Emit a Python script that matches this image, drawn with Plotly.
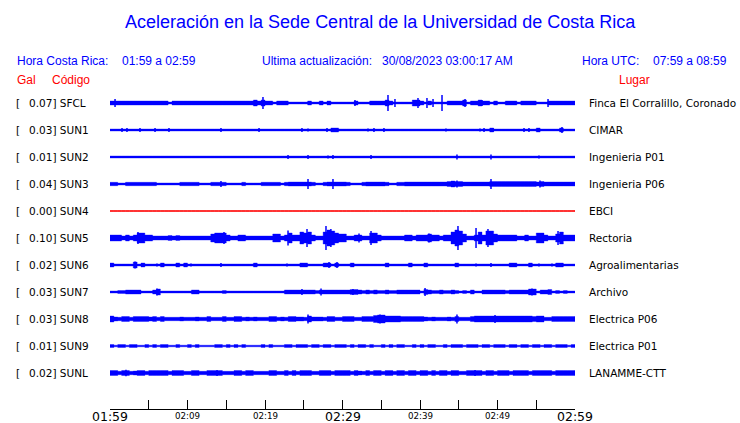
import plotly.graph_objects as go

# ---------------- data ----------------
CODES = ["SFCL", "SUN1", "SUN2", "SUN3", "SUN4", "SUN5", "SUN6", "SUN7", "SUN8", "SUN9", "SUNL"]
PEAK_GAL = [0.07, 0.03, 0.01, 0.04, 0.00, 0.10, 0.02, 0.03, 0.03, 0.01, 0.02]
PLACES = ["Finca El Corralillo, Coronado", "CIMAR", "Ingenieria P01", "Ingenieria P06", "EBCI",
          "Rectoria", "Agroalimentarias", "Archivo", "Electrica P06", "Electrica P01", "LANAMME-CTT"]

TICK_MINUTES = [0, 5, 10, 15, 20, 25, 30, 35, 40, 45, 50, 55, 60]
TICK_LABELS = ["01:59", "", "02:09", "", "02:19", "", "02:29", "", "02:39", "", "02:49", "", "02:59"]
MAJOR_LABELS = ["01:59", "02:29", "02:59"]

BIN_MINUTES = 0.5  # envelope sampled every half minute (120 bins, 01:59 -> 02:59)

# half-amplitude envelopes (relative units) read from the record
SFCL_ENV = [2, 2, 2, 2, 2, 2, 2, 2, 2, 2,
            2, 2, 2, 2, 2, 1, 2, 2, 2, 2,
            2, 2, 2, 2, 2, 2, 2, 2, 2, 2,
            2, 2, 2, 2, 2, 2, 2, 3, 2, 3,
            2, 2, 1, 2, 2, 2, 1, 1, 1, 1,
            1, 2, 1, 1, 2, 1, 2, 1, 1, 1,
            1, 1, 1, 2, 1, 1, 1, 2, 2, 2,
            2, 3, 2, 1, 1, 1, 1, 1, 3, 3,
            2, 1, 2, 1, 1, 1, 1, 2, 2, 2,
            2, 3, 1, 2, 2, 3, 2, 2, 1, 2,
            1, 1, 2, 2, 2, 1, 2, 2, 2, 2,
            1, 1, 1, 2, 2, 2, 2, 2, 2, 2]
SUN1_ENV = [1, 1, 1, 1, 1, 1, 1, 1, 1, 1,
            1, 1, 1, 1, 1, 1, 1, 1, 1, 1,
            1, 1, 1, 1, 1, 1, 1, 1, 1, 1,
            1, 1, 1, 1, 1, 1, 1, 1, 1, 1,
            1, 1, 1, 1, 1, 1, 1, 1, 1, 1,
            1, 1, 1, 1, 1, 1, 1, 2, 2, 1,
            1, 1, 1, 1, 1, 1, 1, 1, 1, 1,
            1, 1, 1, 1, 1, 1, 1, 1, 1, 1,
            1, 1, 1, 1, 1, 1, 1, 1, 1, 1,
            1, 1, 1, 1, 1, 1, 1, 1, 2, 1,
            1, 1, 1, 1, 1, 1, 1, 1, 1, 1,
            2, 1, 1, 1, 1, 1, 2, 1, 1, 1]
SUN2_ENV = [1, 1, 1, 1, 1, 1, 1, 1, 1, 1,
            1, 1, 1, 1, 1, 1, 1, 1, 1, 1,
            1, 1, 1, 1, 1, 1, 1, 1, 1, 1,
            1, 1, 1, 1, 1, 1, 1, 1, 1, 1,
            1, 1, 1, 1, 1, 1, 1, 1, 1, 1,
            1, 1, 1, 1, 1, 1, 1, 1, 1, 1,
            1, 1, 1, 1, 1, 1, 1, 1, 1, 1,
            1, 1, 1, 1, 1, 1, 1, 1, 1, 1,
            1, 1, 1, 1, 1, 1, 1, 1, 1, 1,
            1, 1, 1, 1, 1, 1, 1, 1, 1, 1,
            1, 1, 1, 1, 1, 1, 1, 1, 1, 1,
            1, 1, 1, 1, 1, 1, 1, 1, 1, 1]
SUN3_ENV = [1.7, 1.7, 1, 1, 1.7, 1.7, 1.7, 1.7, 1.7, 1.7,
            1.7, 1.7, 1, 1, 1, 1, 1, 1, 1.7, 1.7,
            1.7, 1.7, 1.7, 1, 1, 1, 1.7, 1.7, 1.7, 1.7,
            1, 1, 1, 1, 1.7, 1, 1, 1, 1, 1.7,
            1.7, 1.7, 1.7, 1.7, 1, 1.7, 2, 2, 2, 2,
            2, 2, 1.7, 1, 1, 1.7, 2, 2, 2, 2,
            2, 1.7, 1, 1, 1, 1.7, 2, 2, 2, 2,
            2, 1.7, 1, 1, 1.7, 1.7, 2, 2, 2, 2,
            2, 2, 2, 2, 2, 2, 2, 2.5, 3, 2.5,
            2.5, 2, 2, 2, 2, 2, 2, 2, 2.5, 2.5,
            2.5, 2.5, 2.5, 2.5, 2.5, 2.5, 2.5, 2.5, 2.5, 2.5,
            2, 2.5, 2, 2, 2, 2, 2, 2, 2, 2]
SUN4_ENV = [0.5, 0.5, 0.5, 0.5, 0.5, 0.5, 0.5, 0.5, 0.5, 0.5,
            0.5, 0.5, 0.5, 0.5, 0.5, 0.5, 0.5, 0.5, 0.5, 0.5,
            0.5, 0.5, 0.5, 0.5, 0.5, 0.5, 0.5, 0.5, 0.5, 0.5,
            0.5, 0.5, 0.5, 0.5, 0.5, 0.5, 0.5, 0.5, 0.5, 0.5,
            0.5, 0.5, 0.5, 0.5, 0.5, 0.5, 0.5, 0.5, 0.5, 0.5,
            0.5, 0.5, 0.5, 0.5, 0.5, 0.5, 0.5, 0.5, 0.5, 0.5,
            0.5, 0.5, 0.5, 0.5, 0.5, 0.5, 0.5, 0.5, 0.5, 0.5,
            0.5, 0.5, 0.5, 0.5, 0.5, 0.5, 0.5, 0.5, 0.5, 0.5,
            0.5, 0.5, 0.5, 0.5, 0.5, 0.5, 0.5, 0.5, 0.5, 0.5,
            0.5, 0.5, 0.5, 0.5, 0.5, 0.5, 0.5, 0.5, 0.5, 0.5,
            0.5, 0.5, 0.5, 0.5, 0.5, 0.5, 0.5, 0.5, 0.5, 0.5,
            0.5, 0.5, 0.5, 0.5, 0.5, 0.5, 0.5, 0.5, 0.5, 0.5]
SUN5_ENV = [3, 3, 3, 2, 3, 2, 3, 5, 5, 3,
            3, 2, 2, 2, 2, 2.5, 2, 2.5, 2, 2,
            2, 2, 2, 2, 2, 2, 4, 5, 5, 5,
            3, 2, 2, 3, 3, 2, 2, 2, 2, 2,
            2, 2, 4, 4, 2, 3, 5, 3, 3, 6,
            5, 6, 3, 2, 2, 6, 8, 7, 5, 4,
            4, 2, 2, 3, 3, 2, 2, 5, 5, 3,
            2, 2, 2, 2, 2, 2, 3, 3, 2, 3,
            3, 3, 4, 3, 3, 2, 3, 3, 6, 8,
            7, 4, 2, 2, 3, 6, 3, 7, 7, 4,
            3, 3, 3, 3, 3, 2, 2, 3, 2, 2,
            5, 5, 3, 2, 2, 4, 6, 3, 3, 3]
SUN6_ENV = [2, 1, 1, 1, 1, 1, 3, 1, 2, 1,
            1, 1, 1, 2, 1, 1, 1, 2, 1, 2,
            1, 1, 1, 1, 1, 1, 1, 1, 1, 1,
            1, 1, 1, 1, 1, 1, 1, 2, 1, 1,
            1, 1, 1, 1, 1, 1, 1, 1, 1, 2,
            2, 1, 1, 1, 1, 2, 2, 1, 2, 1,
            1, 1, 2, 1, 1, 1, 1, 1, 1, 1,
            1, 2, 1, 1, 1, 1, 1, 2, 1, 1,
            1, 2, 1, 1, 1, 1, 1, 1, 1, 2,
            1, 1, 1, 1, 1, 1, 1, 1, 1, 1,
            1, 1, 1, 2, 2, 1, 1, 1, 2, 1,
            1, 1, 1, 1, 1, 2, 2, 1, 1, 1]
SUN7_ENV = [1, 1, 1.5, 1.5, 2, 2, 2, 2, 1, 1,
            1, 2, 3, 1, 1, 1, 1, 1, 1, 1,
            1, 2, 2, 1, 1, 1, 1, 1, 1, 1.5,
            1, 1, 1, 1, 1, 1, 1, 1, 1, 1,
            1, 1, 1, 1, 1, 2, 2, 2, 2, 2,
            2, 2, 2, 1.5, 2, 2, 2, 2, 2, 2,
            2, 2, 2.5, 2.5, 2, 1.5, 2, 1.5, 2, 1.5,
            1.5, 2, 1.5, 1.5, 2, 2, 2, 2, 2, 2,
            1, 2.5, 2, 1.5, 1.5, 2, 1.5, 1.5, 2, 1.5,
            1, 1.5, 1, 2, 1, 1, 2, 2, 2, 2,
            2, 2, 1.5, 2, 2, 2, 2, 2, 3, 3,
            1, 2, 2, 2.5, 1, 1.5, 1, 1.5, 1, 1]
SUN8_ENV = [3, 2, 1.7, 2.5, 2.5, 1.7, 2.5, 2.5, 2.5, 2.5,
            2, 2.5, 1.7, 2.5, 1.7, 1.7, 1.7, 1.7, 2, 1.7,
            1.7, 1.7, 2, 1.7, 1.7, 2.5, 1.7, 1.7, 1.7, 2.5,
            1.7, 1.7, 2.5, 2.5, 1.7, 2, 1.7, 2, 1.7, 1.7,
            1.7, 2.5, 2.5, 1.7, 2, 1.7, 2.5, 2.5, 2, 2,
            1.7, 3, 2, 2, 2, 1.7, 2.5, 2.5, 1.7, 1.7,
            2.5, 2.5, 2.5, 1.7, 1.7, 2.5, 2.5, 2.5, 3.5, 4,
            4, 3, 3, 3, 3, 2.5, 2.5, 2.5, 2.5, 2.5,
            2.5, 2, 1.7, 2, 1.7, 1.7, 1.7, 2, 1.7, 2.5,
            1.7, 1.7, 1.7, 2.5, 3, 3, 3, 3, 3, 3,
            3, 3, 3, 3, 3, 3, 3, 3, 3, 2.5,
            3, 3, 1.7, 1.7, 2.5, 2.5, 2.5, 2.5, 2.5, 2.5]
SUN9_ENV = [1.5, 0.8, 1.5, 1.5, 0.8, 1.5, 1.5, 0.8, 0.8, 1.5,
            0.8, 1.5, 0.8, 1.5, 1.5, 0.8, 0.8, 1.5, 0.8, 0.8,
            1.5, 0.8, 1.5, 0.8, 0.8, 0.8, 0.8, 1.5, 1.5, 0.8,
            1.5, 0.8, 1.5, 0.8, 1.5, 0.8, 0.8, 0.8, 0.8, 1.5,
            0.8, 1.5, 0.8, 0.8, 0.8, 1.5, 1.5, 0.8, 1.5, 1.5,
            1.5, 0.8, 1.5, 1.5, 0.8, 1.5, 1.5, 0.8, 1.5, 1.5,
            1.5, 0.8, 1.5, 0.8, 1.5, 1.5, 0.8, 1.5, 0.8, 0.8,
            1.5, 0.8, 1.5, 0.8, 1.5, 1.5, 0.8, 0.8, 1.5, 0.8,
            1.5, 0.8, 1.5, 1.5, 0.8, 0.8, 1.5, 0.8, 1.5, 1.5,
            1.5, 0.8, 1.5, 1.5, 1.5, 0.8, 1.5, 1.5, 0.8, 1.5,
            1.5, 1.5, 0.8, 1.5, 1.5, 0.8, 1.5, 1.5, 0.8, 1.5,
            1.5, 0.8, 1.5, 1.5, 0.8, 1.5, 1.5, 1.5, 0.8, 1.5]
SUNL_ENV = [2.5, 2.5, 1.7, 2.5, 2.5, 1.7, 2, 2.5, 2.5, 1.7,
            2.5, 2.5, 2.5, 2.5, 2.5, 1.7, 2.5, 2.5, 2.5, 1.7,
            1.7, 2.5, 2.5, 1.7, 1.7, 2.5, 2.5, 2.5, 2.5, 1.7,
            1.7, 1.7, 2.5, 2.5, 1.7, 2.5, 2.5, 1.7, 1.7, 1.7,
            1.7, 2.5, 2.5, 1.7, 1.7, 2.5, 1.7, 2.5, 1.7, 2.5,
            2.5, 2.5, 1.7, 1.7, 2.5, 2.5, 2.5, 1.7, 2.5, 2.5,
            2.5, 2.5, 1.7, 2.5, 2, 1.7, 2.5, 1.7, 2.5, 2.5,
            1.7, 2.5, 2.5, 1.7, 2.5, 2.5, 1.7, 2.5, 2.5, 1.7,
            2.5, 2.5, 1.7, 2.5, 1.7, 2.5, 2.5, 1.7, 2.5, 2.5,
            1.7, 1.7, 2.5, 2.5, 2.5, 2.5, 1.7, 2.5, 2.5, 1.7,
            2.5, 2.5, 2.5, 1.7, 2.5, 2.5, 2.5, 2.5, 1.7, 2.5,
            2.5, 2.5, 2.5, 2.5, 1.7, 2.5, 2.5, 2.5, 2.5, 2.5]

# isolated peaks: (minutes after 01:59, half-amplitude)
SFCL_PEAK_T = [0.65, 19.74, 31.61, 35.87, 36.77, 39.74, 40.9, 41.68, 42.84, 45.81, 48.0, 56.52]
SFCL_PEAK_A = [4, 6, 3, 8, 4, 5, 5, 4, 8, 4, 3, 4]
SUN1_PEAK_T = [1.55, 2.19, 3.87, 5.81, 7.61, 14.32, 19.23, 24.77, 25.55, 28.0, 28.9, 33.29,
               34.06, 35.35, 43.35, 47.74, 48.26, 49.42, 53.42, 54.06, 55.35, 58.32]
SUN1_PEAK_A = [2, 2, 2, 2, 2, 2, 2, 2, 1.5, 2, 2, 1.5, 2, 2, 1.5, 1.5, 2, 2, 2, 2, 2, 3]
SUN2_PEAK_T = [22.97, 25.55, 28.13, 28.77, 33.68, 44.77, 49.16, 55.35]
SUN2_PEAK_A = [2, 2, 1.5, 2, 2, 2.5, 2.5, 1.5]
SUN3_PEAK_T = [14.32, 25.55, 28.77, 44.77, 49.16, 55.48]
SUN3_PEAK_A = [3, 5, 5, 3.5, 5, 3.5]
SUN4_PEAK_T = []
SUN4_PEAK_A = []
SUN5_PEAK_T = [3.61, 14.71, 22.97, 25.42, 27.87, 28.5, 32.13, 33.68, 41.16, 44.9, 47.23, 48.77, 57.81]
SUN5_PEAK_A = [6, 6, 7.5, 9, 12, 9, 4.5, 7, 4.5, 12, 10, 9, 7]
SUN6_PEAK_T = [3.23, 6.06, 10.45, 14.32, 22.84, 28.26, 29.29, 47.23, 49.16, 55.35, 57.03]
SUN6_PEAK_A = [3.5, 1.5, 1.5, 2, 1.5, 3, 3, 1.5, 2, 1.5, 1.5]
SUN7_PEAK_T = [6.06, 24.77, 27.23, 31.35, 40.65, 54.45]
SUN7_PEAK_A = [3.5, 3, 3.5, 3, 4, 3.5]
SUN8_PEAK_T = [25.55, 34.84, 44.77, 49.68]
SUN8_PEAK_A = [4.5, 4.5, 4.5, 4]
SUN9_PEAK_T = []
SUN9_PEAK_A = []
SUNL_PEAK_T = [2.06, 13.81, 47.1]
SUNL_PEAK_A = [3.2, 3, 3]

ENVELOPES = [SFCL_ENV, SUN1_ENV, SUN2_ENV, SUN3_ENV, SUN4_ENV, SUN5_ENV,
             SUN6_ENV, SUN7_ENV, SUN8_ENV, SUN9_ENV, SUNL_ENV]
PEAKS_T = [SFCL_PEAK_T, SUN1_PEAK_T, SUN2_PEAK_T, SUN3_PEAK_T, SUN4_PEAK_T, SUN5_PEAK_T,
           SUN6_PEAK_T, SUN7_PEAK_T, SUN8_PEAK_T, SUN9_PEAK_T, SUNL_PEAK_T]
PEAKS_A = [SFCL_PEAK_A, SUN1_PEAK_A, SUN2_PEAK_A, SUN3_PEAK_A, SUN4_PEAK_A, SUN5_PEAK_A,
           SUN6_PEAK_A, SUN7_PEAK_A, SUN8_PEAK_A, SUN9_PEAK_A, SUNL_PEAK_A]

# ---------------- layout constants ----------------
W, H = 740, 423
PLOT_L, PLOT_R = 110, 575
PLOT_T, PLOT_B = 90, 409
ROW_PX = 27.0
ROW0_PX = 103.0
AMP = 1.0 / ROW_PX
Y_TOP = (ROW0_PX - PLOT_T) / ROW_PX
Y_BOT = Y_TOP - (PLOT_B - PLOT_T) / ROW_PX

BLUE = "#0000ff"
RED = "#ff0000"


def px_x(px):
    return (px - PLOT_L) / (PLOT_R - PLOT_L)


def px_y(py):
    return (PLOT_B - py) / (PLOT_B - PLOT_T)


fig = go.Figure()

for i, code in enumerate(CODES):
    row = -i
    color = RED if PEAK_GAL[i] == 0 else BLUE
    env = ENVELOPES[i]
    xs, top, bot = [], [], []
    for k, a in enumerate(env):
        x0 = k * BIN_MINUTES
        x1 = x0 + BIN_MINUTES
        xs += [x0, x1]
        top += [row + a * AMP, row + a * AMP]
        bot += [row - a * AMP, row - a * AMP]
    fig.add_trace(go.Scatter(x=xs + xs[::-1], y=top + bot[::-1], mode="lines",
                             fill="toself", fillcolor=color,
                             line=dict(width=0.35 if PEAK_GAL[i] > 0 else 0.6,
                                       color=color, simplify=False),
                             hoverinfo="skip", showlegend=False))
    if PEAKS_T[i]:
        sx, sy = [], []
        for t, a in zip(PEAKS_T[i], PEAKS_A[i]):
            sx += [t, t, None]
            sy += [row - a * AMP, row + a * AMP, None]
        fig.add_trace(go.Scatter(x=sx, y=sy, mode="lines",
                                 line=dict(width=1.5, color=color, simplify=False),
                                 hoverinfo="skip", showlegend=False))

ann = []
HFONT = "Liberation Sans, Arial, sans-serif"
LFONT = "DejaVu Sans, sans-serif"


def text(px, py, s, size, color, family, anchor="left"):
    ann.append(dict(xref="paper", yref="paper", x=px_x(px), y=px_y(py), text=s,
                    showarrow=False, xanchor=anchor, yanchor="middle",
                    font=dict(size=size, color=color, family=family)))


text(380, 22, "Aceleración en la Sede Central de la Universidad de Costa Rica", 18, BLUE, HFONT, "center")
text(15, 61, "Hora Costa Rica:", 12, BLUE, HFONT)
text(120, 61, "01:59 a 02:59", 12, BLUE, HFONT)
text(260, 61, "Ultima actualización:", 12, BLUE, HFONT)
text(380, 61, "30/08/2023 03:00:17 AM", 12, BLUE, HFONT)
text(580, 61, "Hora UTC:", 12, BLUE, HFONT)
text(651, 61, "07:59 a 08:59", 12, BLUE, HFONT)
text(15, 80, "Gal", 12, RED, HFONT)
text(50, 80, "Código", 12, RED, HFONT)
text(652, 80, "Lugar", 12, RED, HFONT, "right")

for i, code in enumerate(CODES):
    py = ROW0_PX + i * ROW_PX
    text(14, py, "[", 10.5, "#000000", LFONT)
    text(27, py, f"{PEAK_GAL[i]:.2f}] {code}", 10.5, "#000000", LFONT)
    text(587, py, PLACES[i], 10.5, "#000000", LFONT)

for t, lab in zip(TICK_MINUTES, TICK_LABELS):
    if not lab:
        continue
    big = lab in MAJOR_LABELS
    ann.append(dict(xref="x", yref="paper", x=t, y=px_y(416.5 if big else 415.5), text=lab,
                    showarrow=False, xanchor="center", yanchor="middle",
                    font=dict(size=12.5 if big else 8.7, color="#000000", family=LFONT)))

fig.update_layout(
    width=W, height=H,
    margin=dict(l=PLOT_L, r=W - PLOT_R, t=PLOT_T, b=H - PLOT_B, pad=0),
    paper_bgcolor="white", plot_bgcolor="white",
    showlegend=False,
    annotations=ann,
    xaxis=dict(range=[0, 60], tickvals=TICK_MINUTES, showticklabels=False, ticks="inside",
               ticklen=9, tickwidth=1, tickcolor="black", showline=True, linecolor="black",
               linewidth=1, showgrid=False, zeroline=False, fixedrange=True),
    yaxis=dict(range=[Y_BOT, Y_TOP], visible=False, fixedrange=True),
)

fig.write_html("out.html", config={"displayModeBar": False},
               post_script="document.body.style.margin='0';document.body.style.overflow='hidden';")
